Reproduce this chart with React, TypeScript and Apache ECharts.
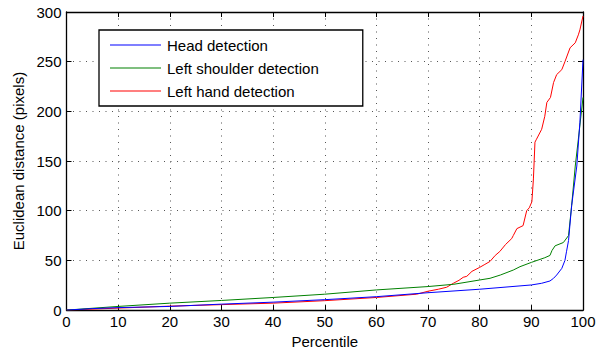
import React, { useEffect, useRef } from "react";
import * as echarts from "echarts";

const xTicks = [0, 10, 20, 30, 40, 50, 60, 70, 80, 90, 100];
const yTicks = [0, 50, 100, 150, 200, 250, 300];

const seriesNames = ["Head detection", "Left shoulder detection", "Left hand detection"];

const headPct = [0, 5, 10, 20, 30, 40, 50, 60, 70, 80, 90, 92, 93.6, 94.3, 94.9, 95.9, 96.5, 96.8, 97.2, 97.8, 98.8, 99.4, 100];
const headDist = [0, 1.5, 2.5, 3.7, 6, 8, 10.5, 13.5, 17.5, 21, 25.3, 27, 29.3, 32, 35.3, 42, 50, 58.7, 70, 105, 145, 189, 252];

const shoulderPct = [0, 10, 20, 30, 40, 50, 60, 70, 75, 80, 82, 84, 86.5, 87.8, 90, 92.6, 93.6, 94, 94.6, 96.2, 97.2, 97.8, 98.5, 99.1, 100];
const shoulderDist = [0, 3.7, 7, 9.7, 12.7, 16, 20.3, 23.7, 26, 30.3, 32, 35.3, 40.3, 43.7, 48, 52.7, 55, 60, 64.7, 68, 75, 105, 145, 172, 214];

const handPct = [0, 10, 20, 30, 40, 50, 60, 67.8, 70, 72, 73.6, 74.9, 76, 76.8, 77.5, 78.5, 80, 81, 82, 83, 83.9, 85, 86.2, 86.5, 87.2, 88.4, 89.1, 89.6, 90.1, 90.4, 90.7, 91, 92, 92.6, 93, 93.7, 94.3, 94.9, 95.9, 96.5, 97.5, 98.5, 99.1, 99.4, 100];
const handDist = [0, 2, 4, 5.5, 7, 9.5, 12.7, 16, 19, 21, 23, 27, 30, 33, 34, 39, 43, 46, 49, 55, 59, 66, 72, 75, 82, 85, 100, 103, 109, 132, 169, 172, 182, 195, 209, 214, 229, 237, 242, 250, 264, 269, 277, 282, 296];

const colors = ["#0000ff", "#008000", "#ff0000"];

const zip = (xs: number[], ys: number[]) => xs.map((x, i) => [x, ys[i]]);

export default function App() {
  const ref = useRef<HTMLDivElement>(null);
  useEffect(() => {
    if (!ref.current) return;
    const chart = echarts.init(ref.current, undefined, { renderer: "svg" });
    const font = "'Liberation Sans', Arial, Helvetica, sans-serif";
    const grid = { left: 66.5, right: 21, top: 12, bottom: 42 };
    const split = { show: true, lineStyle: { color: "#555", type: [1, 5.5] as any, width: 1 } };
    const tick = { show: true, inside: true, length: 5, lineStyle: { color: "#000", width: 1 } };
    const axisLine = { show: true, onZero: false, lineStyle: { color: "#000", width: 1.3 } };
    const xMin = xTicks[0], xMax = xTicks[xTicks.length - 1];
    const yMin = yTicks[0], yMax = yTicks[yTicks.length - 1];
    chart.setOption({
      animation: false,
      backgroundColor: "#fff",
      grid,
      xAxis: [
        {
          type: "value", min: xMin, max: xMax, interval: 10, position: "bottom",
          name: "Percentile", nameLocation: "middle", nameGap: 21,
          nameTextStyle: { fontFamily: font, fontSize: 15, color: "#000" },
          axisLabel: { fontFamily: font, fontSize: 15, color: "#000", margin: 4 },
          axisLine, axisTick: tick, splitLine: split,
        },
        {
          type: "value", min: xMin, max: xMax, interval: 10, position: "top",
          axisLabel: { show: false }, axisLine, axisTick: tick, splitLine: { show: false },
        },
      ],
      yAxis: [
        {
          type: "value", min: yMin, max: yMax, interval: 50, position: "left",
          name: "Euclidean distance (pixels)", nameLocation: "middle", nameGap: 38, nameRotate: 90,
          nameTextStyle: { fontFamily: font, fontSize: 15, color: "#000" },
          axisLabel: { fontFamily: font, fontSize: 15, color: "#000", margin: 5 },
          axisLine, axisTick: tick, splitLine: split,
        },
        {
          type: "value", min: yMin, max: yMax, interval: 50, position: "right",
          axisLabel: { show: false }, axisLine, axisTick: tick, splitLine: { show: false },
        },
      ],
      legend: {
        orient: "vertical",
        left: 99,
        top: 30,
        data: seriesNames,
        icon: "path://M0,0L51,0L51,1.2L0,1.2Z",
        backgroundColor: "#fff",
        borderColor: "#000",
        borderWidth: 1.3,
        borderRadius: 0,
        padding: [7.5, 44, 7.5, 11],
        itemWidth: 51,
        itemHeight: 15,
        itemGap: 8,
        textStyle: { fontFamily: font, fontSize: 15, color: "#000", lineHeight: 15, padding: [0, 0, 0, 1] },
      },
      series: [
        { name: seriesNames[0], data: zip(headPct, headDist) },
        { name: seriesNames[1], data: zip(shoulderPct, shoulderDist) },
        { name: seriesNames[2], data: zip(handPct, handDist) },
      ].map((s, i) => ({
        ...s,
        type: "line",
        xAxisIndex: 0,
        yAxisIndex: 0,
        symbol: "none",
        showSymbol: false,
        color: colors[i],
        lineStyle: { color: colors[i], width: 1 },
        z: 3 - i,
      })),
    });
    return () => chart.dispose();
  }, []);
  return (
    <div
      ref={ref}
      style={{ position: "fixed", left: 0, top: 0, width: 604, height: 354, background: "#fff" }}
    />
  );
}
